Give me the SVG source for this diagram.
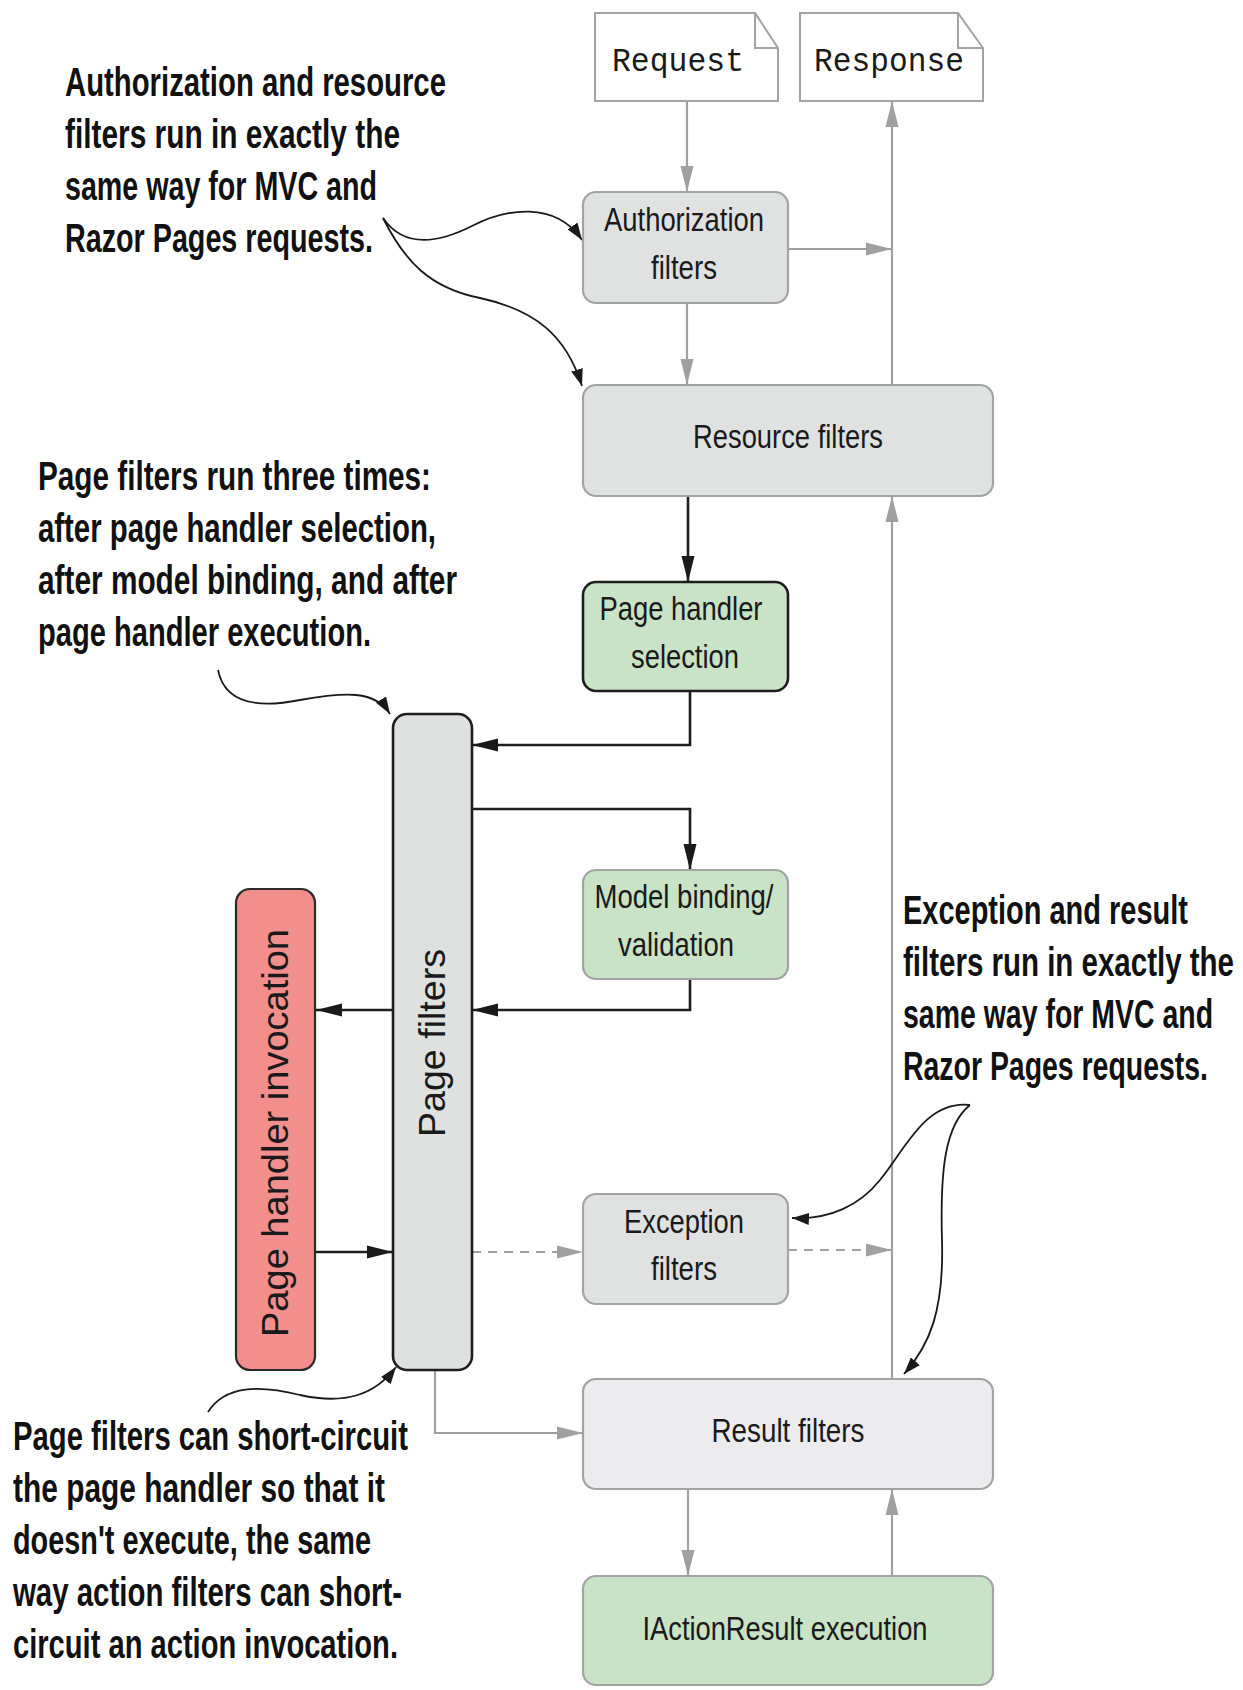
<svg xmlns="http://www.w3.org/2000/svg" width="1243" height="1690" viewBox="0 0 1243 1690">
<style>
.bg{fill:#ffffff}
.box{stroke-width:2.2}
.grey{fill:#e0e1e1;stroke:#a3a3a3}
.green{fill:#c8e3c5}
.gs{stroke:#a3a3a3}
.ks{stroke:#1e1e1e;stroke-width:2.6}
.lbl{font-family:"Liberation Sans",Arial,sans-serif;font-size:34px;fill:#1a1a1a;text-anchor:middle}
.rot{font-family:"Liberation Sans",Arial,sans-serif;font-size:37px;fill:#1a1a1a;text-anchor:middle}
.mono{font-family:"Liberation Mono","Courier New",monospace;font-size:33px;fill:#1a1a1a}
.note{font-family:"Liberation Sans",Arial,sans-serif;font-weight:bold;font-size:41px;fill:#111}
.lg{fill:none;stroke:#a0a0a0;stroke-width:2.2}
.lk{fill:none;stroke:#1e1e1e;stroke-width:2.6}
.dash{stroke-dasharray:9 7}
.co{fill:none;stroke:#1a1a1a;stroke-width:1.8}
</style>
<defs>
<marker id="ag" markerUnits="userSpaceOnUse" markerWidth="26" markerHeight="14" refX="26" refY="7" orient="auto"><path d="M0,0.5 L26,7 L0,13.5 z" fill="#a0a0a0"/></marker>
<marker id="ab" markerUnits="userSpaceOnUse" markerWidth="26" markerHeight="14" refX="26" refY="7" orient="auto"><path d="M0,0.5 L26,7 L0,13.5 z" fill="#1a1a1a"/></marker>
<marker id="ac" markerUnits="userSpaceOnUse" markerWidth="17" markerHeight="12" refX="17" refY="6" orient="auto"><path d="M0,0 L17,6 L0,12 z" fill="#1a1a1a"/></marker>
</defs>
<rect class="bg" x="0" y="0" width="1243" height="1690"/>

<g id="connectors">
<path class="lg" d="M687,101 V192" marker-end="url(#ag)"/>
<path class="lg" d="M788,249 H892" marker-end="url(#ag)"/>
<path class="lg" d="M687,303 V385" marker-end="url(#ag)"/>
<path class="lg" d="M892,385 V101" marker-end="url(#ag)"/>
<path class="lk" d="M688,496 V582" marker-end="url(#ab)"/>
<path class="lk" d="M690,691 V745 H472" marker-end="url(#ab)"/>
<path class="lk" d="M472,809 H690 V870" marker-end="url(#ab)"/>
<path class="lk" d="M690,979 V1010 H472" marker-end="url(#ab)"/>
<path class="lk" d="M393,1010 H316" marker-end="url(#ab)"/>
<path class="lk" d="M316,1252 H393" marker-end="url(#ab)"/>
<path class="lg dash" d="M472,1252 H583" marker-end="url(#ag)"/>
<path class="lg dash" d="M788,1250 H892" marker-end="url(#ag)"/>
<path class="lg" d="M892,1379 V496" marker-end="url(#ag)"/>
<path class="lg" d="M435,1370 V1433 H583" marker-end="url(#ag)"/>
<path class="lg" d="M688,1489 V1576" marker-end="url(#ag)"/>
<path class="lg" d="M892,1576 V1489" marker-end="url(#ag)"/>
<path class="co" d="M383,218 C405,250 440,242 472,226 C505,209 555,200 582,240" marker-end="url(#ac)"/>
<path class="co" d="M383,218 C405,262 430,288 480,298 C535,310 566,335 582,386" marker-end="url(#ac)"/>
<path class="co" d="M218,670 C225,705 260,708 300,700 C345,692 375,690 390,714" marker-end="url(#ac)"/>
<path class="co" d="M208,1412 C225,1385 260,1385 300,1395 C345,1405 375,1395 396,1367" marker-end="url(#ac)"/>
<path class="co" d="M970,1105 C925,1100 905,1150 880,1180 C860,1205 830,1220 792,1218" marker-end="url(#ac)"/>
<path class="co" d="M970,1105 C945,1125 940,1170 942,1240 C944,1310 930,1345 904,1374" marker-end="url(#ac)"/>
</g>

<g id="request">
<path d="M595,13 H755 L778,48 V101 H595 Z" fill="#fff" stroke="#a3a3a3" stroke-width="2"/>
<path d="M755,13 V48 H778" fill="none" stroke="#a3a3a3" stroke-width="2"/>
<text class="mono" x="612" y="71" textLength="132" lengthAdjust="spacingAndGlyphs">Request</text>
</g>
<g id="response">
<path d="M800,13 H958 L983,48 V101 H800 Z" fill="#fff" stroke="#a3a3a3" stroke-width="2"/>
<path d="M958,13 V48 H983" fill="none" stroke="#a3a3a3" stroke-width="2"/>
<text class="mono" x="814" y="71" textLength="150" lengthAdjust="spacingAndGlyphs">Response</text>
</g>

<g id="authorization">
<rect class="box grey" x="583" y="192" width="205" height="111" rx="13"/>
<g transform="scale(0.82,1)">
<text class="lbl" x="834.15" y="231" textLength="195.1" lengthAdjust="spacingAndGlyphs">Authorization</text>
<text class="lbl" x="834.15" y="279" textLength="80.5" lengthAdjust="spacingAndGlyphs">filters</text>
</g>
</g>
<g id="resource">
<rect class="box grey" x="583" y="385" width="410" height="111" rx="13"/>
<text class="lbl" transform="scale(0.82,1)" x="960.98" y="448" textLength="231.7" lengthAdjust="spacingAndGlyphs">Resource filters</text>
</g>
<g id="pagehandlerselection">
<rect class="box green ks" x="583" y="582" width="205" height="109" rx="13"/>
<g transform="scale(0.82,1)">
<text class="lbl" x="830.49" y="620" textLength="198.8" lengthAdjust="spacingAndGlyphs">Page handler</text>
<text class="lbl" x="835.37" y="668" textLength="131.7" lengthAdjust="spacingAndGlyphs">selection</text>
</g>
</g>
<g id="pagefilters">
<rect class="box ks" fill="#dfe0e0" x="393" y="714" width="79" height="656" rx="14"/>
<text class="rot" transform="translate(445,1043) rotate(-90)" textLength="188" lengthAdjust="spacingAndGlyphs">Page filters</text>
</g>
<g id="modelbinding">
<rect class="box green gs" x="583" y="870" width="205" height="109" rx="13"/>
<g transform="scale(0.82,1)">
<text class="lbl" x="834.15" y="908" textLength="218.3" lengthAdjust="spacingAndGlyphs">Model binding/</text>
<text class="lbl" x="824.39" y="956" textLength="141.5" lengthAdjust="spacingAndGlyphs">validation</text>
</g>
</g>
<g id="pagehandlerinvocation">
<rect class="box" fill="#f28e8c" stroke="#2a2a2a" stroke-width="2.4" x="236" y="889" width="79" height="481" rx="14"/>
<text class="rot" transform="translate(288,1133) rotate(-90)" textLength="408" lengthAdjust="spacingAndGlyphs">Page handler invocation</text>
</g>
<g id="exceptionfilters">
<rect class="box grey" x="583" y="1194" width="205" height="110" rx="13"/>
<g transform="scale(0.82,1)">
<text class="lbl" x="834.15" y="1233" textLength="146.3" lengthAdjust="spacingAndGlyphs">Exception</text>
<text class="lbl" x="834.15" y="1280" textLength="80.5" lengthAdjust="spacingAndGlyphs">filters</text>
</g>
</g>
<g id="resultfilters">
<rect class="box gs" fill="#ececee" x="583" y="1379" width="410" height="110" rx="13"/>
<text class="lbl" transform="scale(0.82,1)" x="960.98" y="1442" textLength="186.6" lengthAdjust="spacingAndGlyphs">Result filters</text>
</g>
<g id="iactionresult">
<rect class="box green gs" x="583" y="1576" width="410" height="109" rx="13"/>
<text class="lbl" transform="scale(0.82,1)" x="957.32" y="1640" textLength="347.6" lengthAdjust="spacingAndGlyphs">IActionResult execution</text>
</g>

<g id="note-auth" transform="scale(0.73,1)">
<text class="note" x="89.04" y="96" textLength="521.9" lengthAdjust="spacingAndGlyphs">Authorization and resource</text>
<text class="note" x="89.04" y="148" textLength="458.9" lengthAdjust="spacingAndGlyphs">filters run in exactly the</text>
<text class="note" x="89.04" y="200" textLength="427.4" lengthAdjust="spacingAndGlyphs">same way for MVC and</text>
<text class="note" x="89.04" y="252" textLength="421.9" lengthAdjust="spacingAndGlyphs">Razor Pages requests.</text>
</g>
<g id="note-page" transform="scale(0.73,1)">
<text class="note" x="52.05" y="490" textLength="538.4" lengthAdjust="spacingAndGlyphs">Page filters run three times:</text>
<text class="note" x="52.05" y="542" textLength="545.2" lengthAdjust="spacingAndGlyphs">after page handler selection,</text>
<text class="note" x="52.05" y="594" textLength="574.0" lengthAdjust="spacingAndGlyphs">after model binding, and after</text>
<text class="note" x="52.05" y="646" textLength="456.2" lengthAdjust="spacingAndGlyphs">page handler execution.</text>
</g>
<g id="note-exception" transform="scale(0.73,1)">
<text class="note" x="1236.99" y="924" textLength="390.4" lengthAdjust="spacingAndGlyphs">Exception and result</text>
<text class="note" x="1236.99" y="976" textLength="453.4" lengthAdjust="spacingAndGlyphs">filters run in exactly the</text>
<text class="note" x="1236.99" y="1028" textLength="424.7" lengthAdjust="spacingAndGlyphs">same way for MVC and</text>
<text class="note" x="1236.99" y="1080" textLength="417.8" lengthAdjust="spacingAndGlyphs">Razor Pages requests.</text>
</g>
<g id="note-short" transform="scale(0.73,1)">
<text class="note" x="17.81" y="1450" textLength="541.1" lengthAdjust="spacingAndGlyphs">Page filters can short-circuit</text>
<text class="note" x="17.81" y="1502" textLength="509.6" lengthAdjust="spacingAndGlyphs">the page handler so that it</text>
<text class="note" x="17.81" y="1554" textLength="490.4" lengthAdjust="spacingAndGlyphs">doesn't execute, the same</text>
<text class="note" x="17.81" y="1606" textLength="532.9" lengthAdjust="spacingAndGlyphs">way action filters can short-</text>
<text class="note" x="17.81" y="1658" textLength="527.4" lengthAdjust="spacingAndGlyphs">circuit an action invocation.</text>
</g>
</svg>
